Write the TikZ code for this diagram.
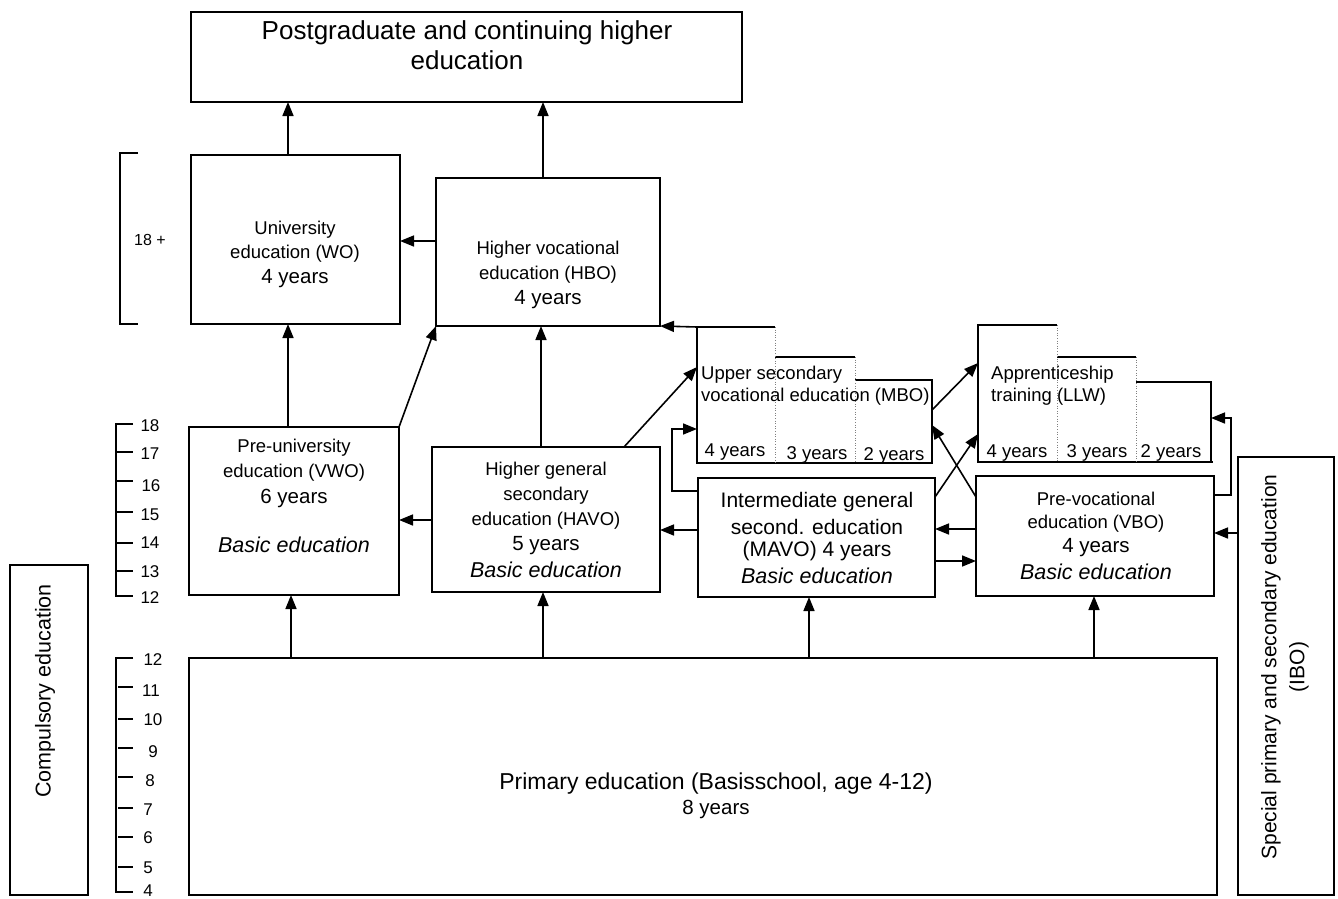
\documentclass[tikz,border=0pt]{standalone}
\usepackage{fontspec}
\setmainfont{Liberation Sans}
\usetikzlibrary{arrows.meta}
\begin{document}
\begin{tikzpicture}[x=1pt,y=-1pt,
  box/.style={draw, line width=1.6pt, inner sep=0pt, outer sep=0pt, anchor=north west},
  ghost/.style={draw=none, inner sep=0pt, outer sep=0pt, anchor=north west},
  tl/.style={inner sep=0pt, font=\fontsize{#1}{#1}\selectfont},
  ti/.style={inner sep=0pt, font=\fontsize{#1}{#1}\selectfont\itshape},
  lt/.style={inner sep=0pt, anchor=west, font=\fontsize{#1}{#1}\selectfont},
  arr/.style={line width=1.6pt, -{Triangle[length=14pt,width=11pt]}},
  ln/.style={line width=1.6pt},
  dots/.style={line width=0.6pt, dotted, gray}
]
\useasboundingbox (0,0) rectangle (1338,899);

% ---------- boxes ----------
\node[box, minimum width=551pt, minimum height=90pt] (pg) at (191,12) {};
\node[box, minimum width=209pt, minimum height=169pt] (wo) at (191,155) {};
\node[box, minimum width=224pt, minimum height=148pt] (hbo) at (436,178) {};
\node[box, minimum width=210pt, minimum height=168pt] (vwo) at (189,427) {};
\node[box, minimum width=228pt, minimum height=145pt] (havo) at (432,447) {};
\node[box, minimum width=237pt, minimum height=119pt] (mavo) at (698,478) {};
\node[box, minimum width=238pt, minimum height=120pt] (vbo) at (976,476) {};
\node[box, minimum width=1028pt, minimum height=237pt] (prim) at (189,658) {};
\node[box, minimum width=78pt, minimum height=330pt] (comp) at (10,565) {};
\node[box, minimum width=96pt, minimum height=438pt] (ibo) at (1238,457) {};
\node[ghost, minimum width=235pt, minimum height=136pt] (mbo) at (697,327) {};
\node[ghost, minimum width=233pt, minimum height=137pt] (llw) at (978,325) {};

% stepped MBO outline
\draw[ln] (775,327) -- (697,327) -- (697,463) -- (932,463) -- (932,380) -- (855,380);
\draw[ln] (775,357) -- (855,357);
\draw[dots] (775,327) -- (775,463);
\draw[dots] (855,357) -- (855,463);
% stepped LLW outline
\draw[ln] (1057,325) -- (978,325) -- (978,462) -- (1213,462);
\draw[ln] (1057,357) -- (1136,357);
\draw[ln] (1136,382) -- (1211,382) -- (1211,462);
\draw[dots] (1057,325) -- (1057,462);
\draw[dots] (1136,357) -- (1136,462);

% ---------- texts ----------
\node[tl=26] (pg1) at (467,33) {Postgraduate and continuing higher};
\node[tl=26] (pg2) at (467,60) {education};

\node[tl=18.5] (wo1) at (295,230) {University};
\node[tl=18.5] (wo2) at (295,254) {education (WO)};
\node[tl=20.5] (wo3) at (295,279) {4 years};

\node[tl=18.5] (hbo1) at (548,250) {Higher vocational};
\node[tl=18.5] (hbo2) at (548,275) {education (HBO)};
\node[tl=20.5] (hbo3) at (548,300) {4 years};

\node[tl=18.5] (vwo1) at (294,448) {Pre-university};
\node[tl=18.5] (vwo2) at (294,473) {education (VWO)};
\node[tl=20.5] (vwo3) at (294,498) {6 years};
\node[ti=21.5] (vwo4) at (294,545) {Basic education};

\node[tl=18.5] (havo1) at (546,471) {Higher general};
\node[tl=18.5] (havo2) at (546,496) {secondary};
\node[tl=18.5] (havo3) at (546,521) {education (HAVO)};
\node[tl=20.5] (havo4) at (546,546) {5 years};
\node[ti=21.5] (havo5) at (546,570) {Basic education};

\node[tl=21] (mavo1) at (817,502) {Intermediate general};
\node[tl=21] (mavo2) at (817,527) {second. education};
\node[tl=21] (mavo3) at (817,551) {(MAVO) 4 years};
\node[ti=21.5] (mavo4) at (817,576) {Basic education};

\node[tl=18.5] (vbo1) at (1096,499) {Pre-vocational};
\node[tl=18.5] (vbo2) at (1096,524) {education (VBO)};
\node[tl=20.5] (vbo3) at (1096,548) {4 years};
\node[ti=21.5] (vbo4) at (1096,572) {Basic education};

\node[lt=18.5] (mbot1) at (701,375) {Upper secondary};
\node[lt=18.5] (mbot2) at (701,397) {vocational education (MBO)};
\node[tl=18.5] (mbo4) at (735,452) {4 years};
\node[tl=18.5] (mbo3) at (817,455) {3 years};
\node[tl=18.5] (mbo2) at (894,456) {2 years};

\node[lt=18.5] (llwt1) at (991,375) {Apprenticeship};
\node[lt=18.5] (llwt2) at (991,397) {training (LLW)};
\node[tl=18.5] (llw4) at (1017,453) {4 years};
\node[tl=18.5] (llw3) at (1097,453) {3 years};
\node[tl=18.5] (llw2) at (1171,453) {2 years};

\node[tl=23] (prim1) at (716,784) {Primary education (Basisschool, age 4-12)};
\node[tl=20.5] (prim2) at (716,809) {8 years};

\node[tl=21.5, rotate=90] (compt) at (45,691) {Compulsory education};
\node[tl=21, rotate=90] (ibot1) at (1271,667) {Special primary and secondary education};
\node[tl=21, rotate=90] (ibot2) at (1299,667) {(IBO)};

% ---------- age scales ----------
\node[tl=16] (t18p) at (150,240) {18 +};
\draw[ln] (138,153) -- (120,153) -- (120,324) -- (138,324);

\draw[ln] (133,424) -- (116,424) -- (116,596) -- (133,596);
\foreach \yy in {452,481,512,543,571} \draw[ln] (116,\yy) -- (133,\yy);
\node[tl=17] (a18) at (150,426) {18};
\node[tl=17] (a17) at (150,454) {17};
\node[tl=17] (a16) at (151,486) {16};
\node[tl=17] (a15) at (150,515) {15};
\node[tl=17] (a14) at (150,543) {14};
\node[tl=17] (a13) at (150,572) {13};
\node[tl=17] (a12) at (150,598) {12};

\draw[ln] (133,658) -- (116,658) -- (116,892) -- (133,892);
\foreach \yy in {687,719,748,777,808,837,867} \draw[ln] (118,\yy) -- (133,\yy);
\node[tl=17] (b12) at (153,660) {12};
\node[tl=17] (b11) at (151,691) {11};
\node[tl=17] (b10) at (153,720) {10};
\node[tl=17] (b9) at (153,752) {9};
\node[tl=17] (b8) at (150,781) {8};
\node[tl=17] (b7) at (148,810) {7};
\node[tl=17] (b6) at (148,838) {6};
\node[tl=17] (b5) at (148,868) {5};
\node[tl=17] (b4) at (148,891) {4};

% ---------- connectors ----------
\draw[arr] (wo.north -| 288,0) -- (pg.south -| 288,0);
\draw[arr] (hbo.north -| 543,0) -- (pg.south -| 543,0);
\draw[arr] (hbo.west |- 0,241) -- (wo.east |- 0,241);
\draw[arr] (vwo.north -| 288,0) -- (wo.south -| 288,0);
\draw[arr] (vwo.north east) -- (hbo.south west);
\draw[arr] (havo.north -| 541,0) -- (hbo.south -| 541,0);
\draw[arr] (havo.west |- 0,520) -- (vwo.east |- 0,520);
\draw[arr] (havo.north -| 624,0) -- (mbo.west |- 0,367);
\draw[arr] (mbo.north west) -- (hbo.south east);
\draw[arr] (mavo.west |- 0,491) -- (672,491) -- (672,429) -- (mbo.west |- 0,429);
\draw[arr] (mavo.west |- 0,530) -- (havo.east |- 0,530);
\draw[arr] (vbo.west |- 0,529) -- (mavo.east |- 0,529);
\draw[arr] (mavo.east |- 0,561) -- (vbo.west |- 0,561);
\draw[arr] (mavo.east |- 0,497) -- (llw.west |- 0,434);
\draw[arr] (vbo.west |- 0,497) -- (mbo.east |- 0,425);
\draw[arr] (mbo.east |- 0,410) -- (llw.west |- 0,363);
\draw[arr] (vbo.east |- 0,495) -- (1231,495) -- (1231,418) -- (llw.east |- 0,418);
\draw[arr] (ibo.west |- 0,533) -- (vbo.east |- 0,533);
\draw[arr] (prim.north -| 291,0) -- (vwo.south -| 291,0);
\draw[arr] (prim.north -| 543,0) -- (havo.south -| 543,0);
\draw[arr] (prim.north -| 809,0) -- (mavo.south -| 809,0);
\draw[arr] (prim.north -| 1094,0) -- (vbo.south -| 1094,0);
\end{tikzpicture}
\end{document}
